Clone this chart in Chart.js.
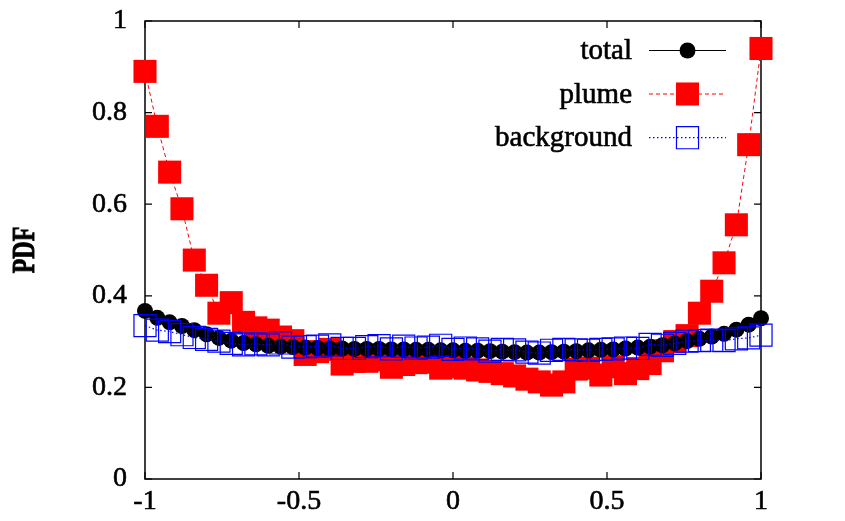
<!DOCTYPE html>
<html><head><meta charset="utf-8">
<script src="https://cdn.jsdelivr.net/npm/chart.js@4.4.1/dist/chart.umd.min.js"></script>
<style>html,body{margin:0;padding:0;background:#fff}#wrap{width:845px;height:521px}</style>
</head><body><div id="wrap"><canvas id="c" width="845" height="521"></canvas></div>
<script>
const cosValues = [-1.00,-0.96,-0.92,-0.88,-0.84,-0.80,-0.76,-0.72,-0.68,-0.64,
  -0.60,-0.56,-0.52,-0.48,-0.44,-0.40,-0.36,-0.32,-0.28,-0.24,
  -0.20,-0.16,-0.12,-0.08,-0.04,0.00,0.04,0.08,0.12,0.16,
  0.20,0.24,0.28,0.32,0.36,0.40,0.44,0.48,0.52,0.56,
  0.60,0.64,0.68,0.72,0.76,0.80,0.84,0.88,0.92,0.96,1.00];
const totalPDF = [0.367,0.352,0.342,0.334,0.325,0.316,0.308,0.302,0.297,0.294,
  0.291,0.289,0.288,0.287,0.286,0.285,0.285,0.284,0.284,0.284,
  0.283,0.283,0.282,0.282,0.281,0.281,0.280,0.280,0.279,0.278,
  0.277,0.276,0.276,0.277,0.278,0.279,0.281,0.282,0.283,0.285,
  0.287,0.289,0.292,0.296,0.301,0.306,0.311,0.317,0.326,0.337,0.351];
const plumePDF = [0.89,0.77,0.67,0.59,0.478,0.423,0.362,0.385,0.342,0.33,
  0.325,0.31,0.302,0.272,0.278,0.283,0.251,0.257,0.257,0.26,
  0.244,0.25,0.254,0.255,0.242,0.245,0.242,0.238,0.235,0.23,
  0.225,0.218,0.212,0.205,0.212,0.24,0.242,0.227,0.245,0.23,
  0.241,0.252,0.28,0.30,0.313,0.362,0.41,0.472,0.555,0.73,0.94];
const backgroundPDF = [0.335,0.325,0.322,0.315,0.309,0.305,0.301,0.296,0.293,0.295,
  0.293,0.297,0.288,0.289,0.29,0.293,0.285,0.285,0.289,0.291,
  0.284,0.29,0.286,0.288,0.292,0.283,0.286,0.284,0.279,0.283,
  0.282,0.277,0.275,0.281,0.283,0.282,0.281,0.283,0.284,0.286,
  0.285,0.294,0.292,0.296,0.301,0.302,0.303,0.302,0.306,0.308,0.314];
const seriesNames = ['total','plume','background'];
const xTicks = [-1,-0.5,0,0.5,1];
const xTickLabels = ['-1','-0.5','0','0.5','1'];
const yTicks = [0,0.2,0.4,0.6,0.8,1];
const yTickLabels = ['0','0.2','0.4','0.6','0.8','1'];
const yTitle = 'PDF';

const FONT = "'Liberation Serif','Times New Roman',serif";
const pts = arr => arr.map((v,i)=>({x:cosValues[i], y:v}));

const framePlugin = {
  id:'frame',
  beforeDatasetsDraw(chart){
    const {ctx, chartArea:a, scales:{x,y}} = chart;
    ctx.save();
    ctx.strokeStyle='#000';
    ctx.lineWidth=1.5;
    ctx.strokeRect(a.left,a.top,a.right-a.left,a.bottom-a.top);
    ctx.lineWidth=1.2;
    ctx.beginPath();
    const tl=7;
    xTicks.forEach(v=>{const px=x.getPixelForValue(v);
      ctx.moveTo(px,a.bottom); ctx.lineTo(px,a.bottom-tl);
      ctx.moveTo(px,a.top); ctx.lineTo(px,a.top+tl);});
    yTicks.forEach(v=>{const py=y.getPixelForValue(v);
      ctx.moveTo(a.left,py); ctx.lineTo(a.left+tl,py);
      ctx.moveTo(a.right,py); ctx.lineTo(a.right-tl,py);});
    ctx.stroke();
    ctx.restore();
  },
  afterDraw(chart){
    const {ctx, chartArea:a} = chart;
    ctx.save();
    ctx.translate(26, (a.top+a.bottom)/2);
    ctx.rotate(-Math.PI/2);
    ctx.scale(1,1.35);
    ctx.font = "bold 24px " + FONT;
    ctx.fillStyle='#000'; ctx.strokeStyle='#000'; ctx.lineWidth=0.7;
    ctx.textAlign='center'; ctx.textBaseline='middle';
    ctx.fillText(yTitle,0,0);
    ctx.strokeText(yTitle,0,0);
    ctx.restore();
    const ys = [a.top+29.5, a.top+73, a.top+116.7];
    ctx.save();
    ctx.font = "29px " + FONT;
    ctx.textAlign='right'; ctx.textBaseline='middle';
    [0,1,2].forEach((di,k)=>{
      const ds = chart.data.datasets[di];
      const yy = ys[k];
      ctx.fillStyle='#000'; ctx.strokeStyle='#000'; ctx.lineWidth=0.6;
      ctx.fillText(ds.label, a.right-129, yy+1);
      ctx.strokeText(ds.label, a.right-129, yy+1);
      ctx.beginPath();
      ctx.setLineDash(ds.borderDash||[]);
      ctx.strokeStyle = ds.borderColor; ctx.lineWidth = ds.borderWidth;
      ctx.moveTo(a.right-112, yy); ctx.lineTo(a.right-35, yy); ctx.stroke();
      ctx.setLineDash([]);
      const mx = a.right-73.5;
      ctx.fillStyle = ds.pointBackgroundColor; ctx.strokeStyle = ds.pointBorderColor;
      ctx.lineWidth = ds.pointBorderWidth;
      Chart.helpers.drawPoint(ctx, {pointStyle: ds.pointStyle, radius: ds.pointRadius, rotation:0, borderWidth: ds.pointBorderWidth}, mx, yy);
    });
    ctx.restore();
  }
};

const noPad = s => { s.paddingTop=0; s.paddingBottom=0; s.paddingLeft=0; s.paddingRight=0; };

new Chart(document.getElementById('c'), {
  type:'line',
  data:{datasets:[
    {label:seriesNames[0], data:pts(totalPDF), borderColor:'#000', borderWidth:1,
     pointStyle:'circle', pointRadius:8, pointBackgroundColor:'#000', pointBorderColor:'#000', pointBorderWidth:0,
     order:2, clip:false},
    {label:seriesNames[1], data:pts(plumePDF), borderColor:'#ff0000', borderWidth:1, borderDash:[4,3],
     pointStyle:'rect', pointRadius:16.3, pointBackgroundColor:'#ff0000', pointBorderColor:'#ff0000', pointBorderWidth:0,
     order:3, clip:false},
    {label:seriesNames[2], data:pts(backgroundPDF), borderColor:'#0000ff', borderWidth:1.2, borderDash:[1.5,2.5],
     pointStyle:'rect', pointRadius:15.6, pointBackgroundColor:'rgba(0,0,0,0)', pointBorderColor:'#0000ff', pointBorderWidth:1.2,
     order:1, clip:false}
  ]},
  options:{
    responsive:false, animation:false, devicePixelRatio:1,
    layout:{padding:{left:0,right:84,top:21,bottom:0}},
    plugins:{legend:{display:false}, tooltip:{enabled:false}},
    elements:{line:{tension:0}},
    scales:{
      x:{type:'linear', min:-1, max:1,
        afterFit:s=>{s.height=42; noPad(s);},
        afterBuildTicks:s=>{s.ticks = xTicks.map(v=>({value:v}));},
        grid:{display:false, drawTicks:false}, border:{display:false},
        ticks:{padding:6, color:'#000', textStrokeColor:'#000', textStrokeWidth:0.6, font:{family:FONT, size:28},
          callback:(v)=>xTickLabels[xTicks.indexOf(v)]}},
      y:{type:'linear', min:0, max:1,
        afterFit:s=>{s.width=145; noPad(s);},
        afterBuildTicks:s=>{s.ticks = yTicks.map(v=>({value:v}));},
        grid:{display:false, drawTicks:false}, border:{display:false},
        ticks:{padding:18, color:'#000', textStrokeColor:'#000', textStrokeWidth:0.6, font:{family:FONT, size:28},
          callback:(v)=>yTickLabels[yTicks.indexOf(v)]}}
    }
  },
  plugins:[framePlugin]
});
</script></body></html>
